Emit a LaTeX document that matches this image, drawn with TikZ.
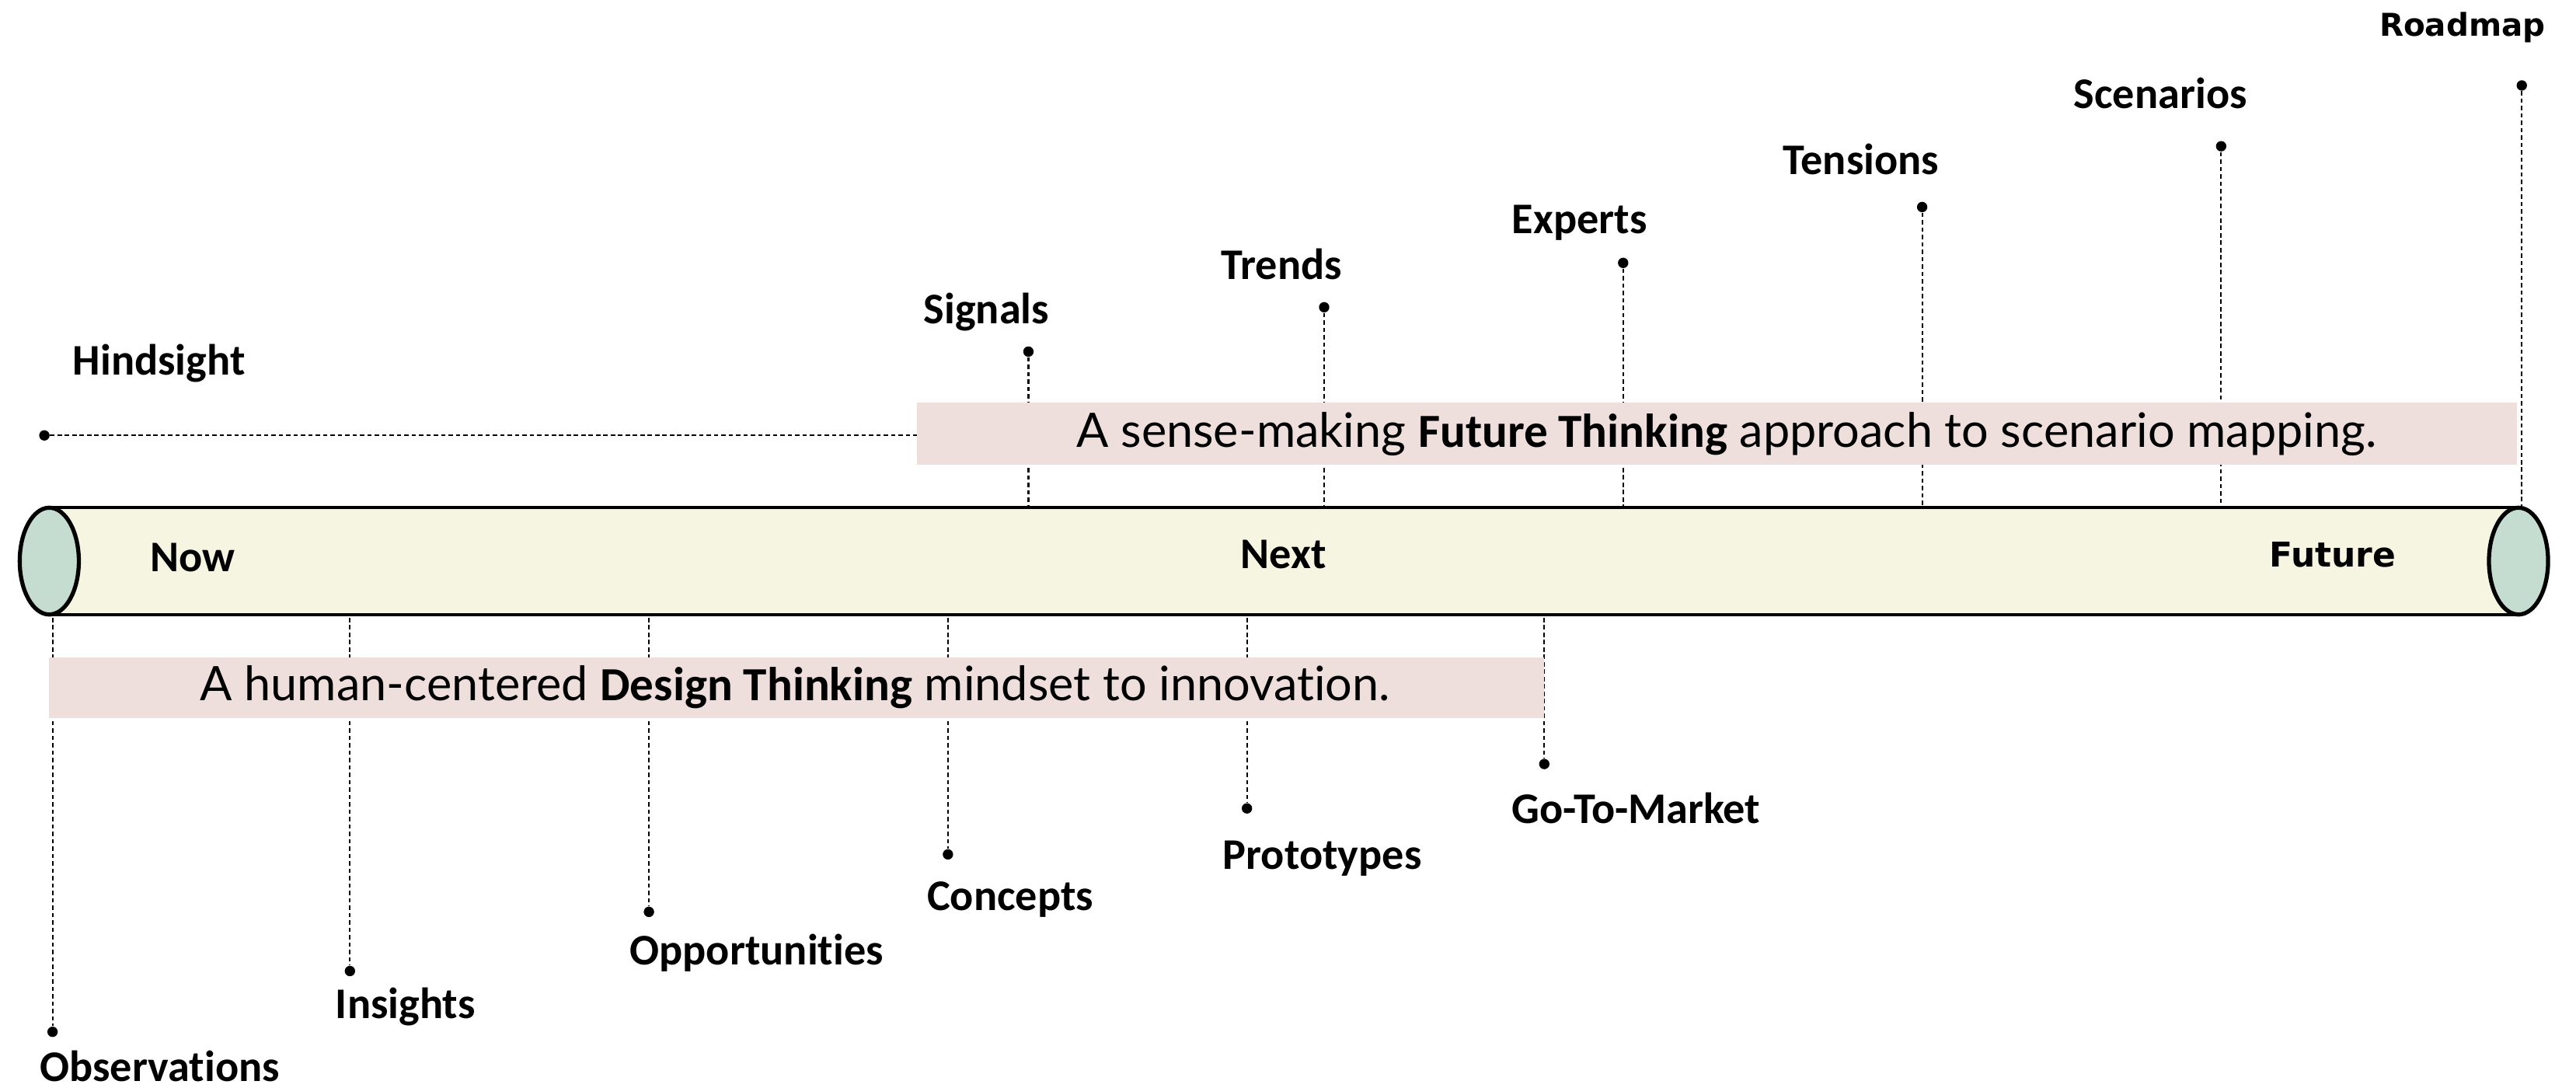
\documentclass[tikz,border=0pt]{standalone}
\usepackage{fontspec}
\setmainfont{Carlito}[Ligatures=NoCommon]
\newfontfamily\bandfont{Lato}[Ligatures=NoCommon]
\newfontfamily\widefont{DejaVu Sans}
\usepackage{xcolor}
\usetikzlibrary{positioning}
\definecolor{tubefill}{HTML}{F6F5E2}
\definecolor{tubeend}{HTML}{C5DDD1}
\definecolor{bandfill}{HTML}{EEDFDC}
\tikzset{
  tubeline/.style={draw=black, line width=1.2pt},
  endcap/.style={draw=black, fill=tubeend, line width=1.5pt},
  lead/.style={draw=black, line width=0.6pt, dash pattern=on 1.6pt off 1.1pt},
  pin/.style={circle, fill=black, inner sep=0pt, minimum size=3.8pt},
  lab/.style={font=\bfseries\fontsize{16}{19}\selectfont, inner sep=0pt, anchor=base west},
  labw/.style={font=\widefont\bfseries\fontsize{11.5}{14}\selectfont, inner sep=0pt, anchor=base west},
  bandtxt/.style={font=\bandfont\fontsize{17.4}{20}\selectfont, inner sep=0pt},
}

\begin{document}
\begin{tikzpicture}[x=0.02114cm, y=-0.02114cm]
\useasboundingbox (0,0) rectangle (1568,662);

% tube
\fill[tubefill] (30,309) rectangle (1533,374);
\draw[tubeline] (30,309) -- (1533,309);
\draw[tubeline] (30,374) -- (1533,374);
\draw[endcap] (30,341.5) ellipse [x radius=18, y radius=32.5];
\draw[endcap] (1533,341.5) ellipse [x radius=18, y radius=32.5];
\coordinate (tubetop) at (0,309);
\coordinate (tubebot) at (0,376);

% pins above the tube
\foreach \n/\x/\y in {sig/626/214, trd/806/187, exp/988/160, ten/1170/126, scn/1352/89, rmp/1535/52}{
  \node[pin] (\n) at (\x,\y) {};
  \draw[lead] (\n) -- (\n |- tubetop);
}
% pins below the tube
\foreach \n/\x/\y in {obs/32/628, ins/213/591, opp/395/555, con/577/520, pro/759/492, gtm/940/465}{
  \node[pin] (\n) at (\x,\y) {};
  \draw[lead] (\n |- tubebot) -- (\n);
}
\node[pin] (hnd) at (27,265) {};
\coordinate (futleft) at (558,265);
\draw[lead] (hnd) -- (futleft);

% bands
\fill[bandfill] (futleft |- 0,245) rectangle (1532,283);
\node[bandtxt] (futtxt) at (1051,264) {A sense-making {\rmfamily\bfseries Future Thinking} approach to scenario mapping.};
\fill[bandfill] (30,400) rectangle (940,437);
\node[bandtxt] (dsgtxt) at (484,418) {A human-centered {\rmfamily\bfseries Design Thinking} mindset to innovation.};

% labels
\node[lab] (hnd-lab) at (44,228) {Hindsight};
\node[lab] (sig-lab) at (562,197) {Signals};
\node[lab] (trd-lab) at (743,170) {Trends};
\node[lab] (exp-lab) at (920,142) {Experts};
\node[lab] (ten-lab) at (1085,106) {Tensions};
\node[lab] (scn-lab) at (1262,66) {Scenarios};
\node[labw] (rmp-lab) at (1448,22) {Roadmap};
\node[lab] (obs-lab) at (24,658) {Observations};
\node[lab] (ins-lab) at (204,620) {Insights};
\node[lab] (opp-lab) at (383,587) {Opportunities};
\node[lab] (con-lab) at (564,554) {Concepts};
\node[lab] (pro-lab) at (744,529) {Prototypes};
\node[lab] (gtm-lab) at (920,501) {Go-To-Market};
\node[lab] (now) at (91,348) {Now};
\node[lab] (next) at (755,346) {Next};
\node[labw, font=\widefont\bfseries\fontsize{12.5}{15}\selectfont] (future) at (1381,345) {Future};
\end{tikzpicture}
\end{document}
